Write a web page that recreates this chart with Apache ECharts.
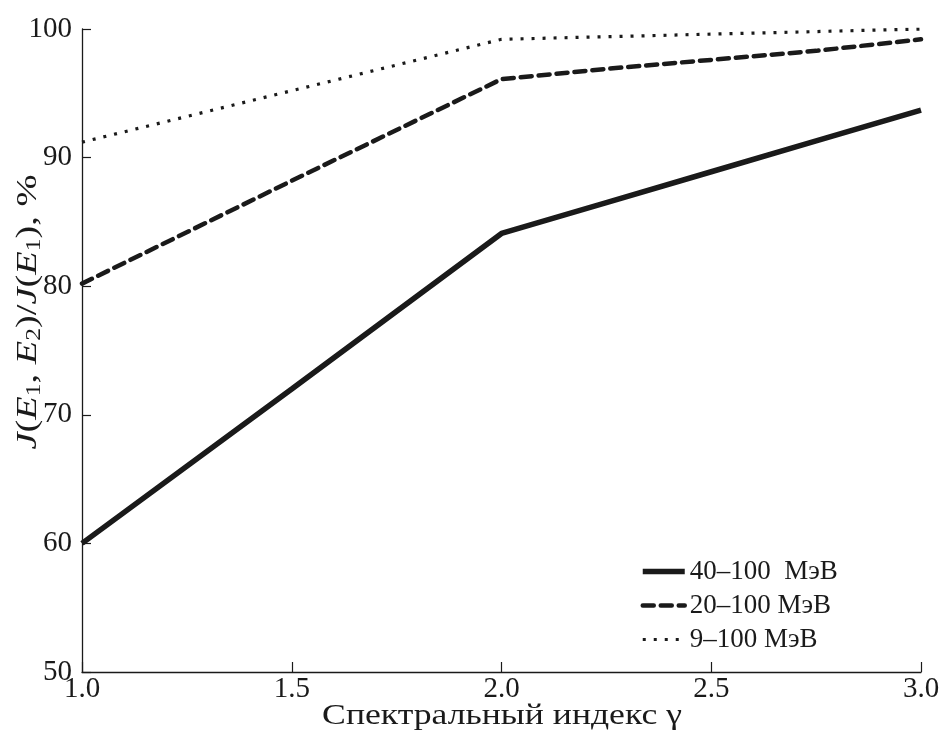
<!DOCTYPE html>
<html>
<head>
<meta charset="utf-8">
<script src="https://cdn.jsdelivr.net/npm/echarts@6/dist/echarts.min.js"></script>
<style>html,body{margin:0;padding:0;background:#fff;}#c{width:939px;height:732px;}</style>
</head>
<body>
<div id="c"></div>
<script>
const gammas = [1.0, 1.5, 2.0, 2.25, 2.5, 2.75, 3.0];
const s40 = [60.0, 72.0, 84.1, 86.5, 88.9, 91.3, 93.7];
const s20 = [80.2, 88.2, 96.1, 96.9, 97.6, 98.3, 99.2];
const s9  = [91.2, 95.2, 99.2, 99.4, 99.6, 99.8, 100.0];
const seriesNames = ['40\u2013100  МэВ', '20\u2013100 МэВ', '9\u2013100 МэВ'];
const xTicks = [1.0, 1.5, 2.0, 2.5, 3.0];
const yTicks = [50, 60, 70, 80, 90, 100];
const xTitle = 'Спектральный индекс γ';

const FONT = '"Liberation Serif", "DejaVu Serif", serif';
const INK = '#1a1a1a';
const pairs = arr => gammas.map((g, i) => [g, arr[i]]);

const styles = [
  {color: INK, width: 5.5, type: 'solid', cap: 'butt'},
  {color: INK, width: 4.5, type: [11, 7], cap: 'round'},
  {color: INK, width: 3.2, type: [3, 8], cap: 'butt'}
];

const chart = echarts.init(document.getElementById('c'), null, {renderer: 'canvas'});
chart.setOption({
  animation: false,
  backgroundColor: '#fff',
  grid: {left: 82, right: 18, top: 29, bottom: 60, containLabel: false, outerBoundsMode: 'none'},
  xAxis: {
    type: 'value', min: xTicks[0], max: xTicks[xTicks.length - 1], interval: 0.5,
    axisLine: {show: true, lineStyle: {color: INK, width: 1.3}},
    axisTick: {show: true, inside: true, length: 10, lineStyle: {color: INK, width: 1.2}},
    splitLine: {show: false},
    axisLabel: {fontFamily: FONT, fontSize: 29, color: INK, margin: 3, formatter: v => v.toFixed(1)}
  },
  yAxis: {
    type: 'value', min: yTicks[0], max: yTicks[yTicks.length - 1], interval: 10,
    axisLine: {show: true, lineStyle: {color: INK, width: 1.3}},
    axisTick: {show: true, inside: true, length: 9, lineStyle: {color: INK, width: 1.2}},
    splitLine: {show: false},
    axisLabel: {fontFamily: FONT, fontSize: 29, color: INK, margin: 10}
  },
  graphic: [{
    type: 'text', x: 28, y: 312, rotation: Math.PI / 2, scaleX: 1.28, scaleY: 1,
    style: {
      text: '{i|J}{n|(}{i|E}{s|1}{n|, }{i|E}{s|2}{n|)/}{i|J}{n|(}{i|E}{s|1}{n|), %}',
      align: 'center', verticalAlign: 'middle',
      fill: INK,
      rich: {
        i: {fontFamily: FONT, fontSize: 30, fontStyle: 'italic', lineHeight: 34, verticalAlign: 'middle', fill: INK},
        n: {fontFamily: FONT, fontSize: 30, lineHeight: 34, verticalAlign: 'middle', fill: INK},
        s: {fontFamily: FONT, fontSize: 20, lineHeight: 19, verticalAlign: 'bottom', fill: INK}
      }
    }
  }, {
    type: 'text', x: 502, y: 716, scaleX: 1.23, scaleY: 1,
    style: {
      text: xTitle, align: 'center', verticalAlign: 'middle',
      fontFamily: FONT, fontSize: 29, fill: INK
    }
  }],
  legend: {
    left: 640, top: 558, padding: 0, orient: 'vertical', itemWidth: 42, itemHeight: 14, itemGap: 7,
    textStyle: {fontFamily: FONT, fontSize: 27, color: INK},
    itemStyle: {opacity: 0},
    data: seriesNames.map((n, i) => ({name: n, itemStyle: {opacity: 0}, lineStyle: styles[i]}))
  },
  series: [
    {name: seriesNames[0], type: 'line', data: pairs(s40), symbol: 'none', smooth: false,
     lineStyle: styles[0], itemStyle: {color: INK}},
    {name: seriesNames[1], type: 'line', data: pairs(s20), symbol: 'none', smooth: false,
     lineStyle: styles[1], itemStyle: {color: INK}},
    {name: seriesNames[2], type: 'line', data: pairs(s9), symbol: 'none', smooth: false,
     lineStyle: styles[2], itemStyle: {color: INK}}
  ]
});
</script>
</body>
</html>
